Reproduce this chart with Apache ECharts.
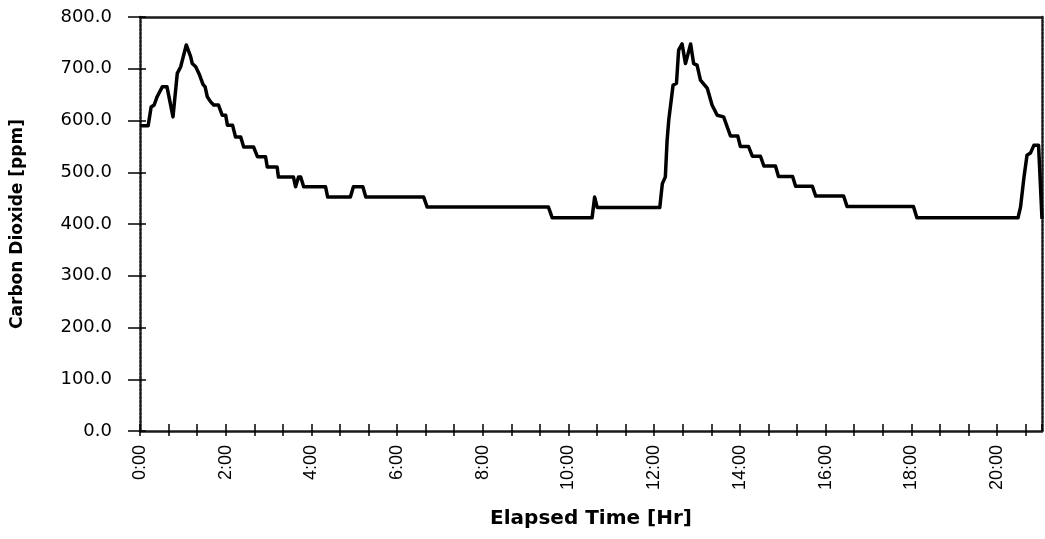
<!DOCTYPE html>
<html>
<head>
<meta charset="utf-8">
<script src="https://cdn.jsdelivr.net/npm/echarts@6/dist/echarts.min.js"></script>
<style>html,body{margin:0;padding:0;background:#fff}#c{width:1045px;height:539px}</style>
</head>
<body>
<div id="c"></div>
<script>
// Elapsed time in hours
var timeHr = [0.00,0.19,0.26,0.33,0.40,0.52,0.63,0.77,0.87,0.95,1.08,1.18,1.22,1.30,1.38,1.47,1.52,1.57,1.65,
  1.72,1.83,1.92,2.00,2.04,2.16,2.23,2.35,2.42,2.65,2.74,2.93,2.97,3.20,3.23,3.58,3.63,3.70,3.75,3.82,4.33,4.38,4.91,
  4.98,5.20,5.27,6.62,6.70,9.53,9.62,10.55,10.61,10.67,12.13,12.19,12.26,12.30,12.34,12.44,12.52,12.57,12.65,12.73,
  12.85,12.92,13.00,13.08,13.24,13.35,13.47,13.62,13.78,13.95,14.01,14.20,14.29,14.48,14.56,14.83,14.90,15.23,15.30,
  15.69,15.77,16.42,16.50,18.05,18.13,20.49,20.55,20.63,20.70,20.78,20.86,20.97,21.05];
// Carbon dioxide in ppm
var co2 = [590,590,626,630,646,665,665,607,691,704,746,724,710,704,690,670,665,646,636,
  630,630,610,610,591,591,568,568,549,549,530,530,510,510,491,491,472,491,491,472,472,452,452,
  472,472,452,452,433,433,412,412,452,432,432,478,491,560,601,668,672,736,748,710,
  748,710,707,678,662,630,610,607,570,570,550,550,531,531,512,512,492,492,473,
  473,454,454,434,434,412,412,433,491,533,537,552,552,410];
var yTicks = [0,100,200,300,400,500,600,700,800];
var xMaxHr = 21.05;

var pts = timeHr.map(function(t,i){ return [t*60, co2[i]]; });
var chart = echarts.init(document.getElementById('c'), null, {renderer:'canvas'});
var borderLine = {show:true, onZero:false, lineStyle:{color:'#1a1a1a', width:2.5, type:[3,1]}};
chart.setOption({
  animation:false,
  backgroundColor:'#fff',
  grid:{left:140, right:3, top:17, bottom:108, containLabel:false},
  xAxis:[
    {type:'value', min:0, max:xMaxHr*60, interval:40, position:'bottom',
     axisLine:borderLine,
     axisTick:{show:true, inside:false, length:5, lineStyle:{color:'#000', width:1.5}},
     splitLine:{show:false},
     axisLabel:{rotate:90, margin:14, color:'#000', fontFamily:'Liberation Sans', fontSize:18, showMaxLabel:false,
       formatter:function(v){ return (Math.round(v)%120===0) ? (Math.round(v)/60)+':00' : ''; }},
     name:'Elapsed Time [Hr]', nameLocation:'middle', nameGap:78,
     nameTextStyle:{color:'#000', fontFamily:'DejaVu Sans', fontWeight:'bold', fontSize:20}},
    {type:'value', min:0, max:xMaxHr*60, interval:40, position:'bottom',
     axisLine:{show:false, onZero:false}, axisLabel:{show:false}, splitLine:{show:false},
     axisTick:{show:true, inside:true, length:7, lineStyle:{color:'#000', width:1.5}}},
    {type:'value', min:0, max:xMaxHr*60, position:'top',
     axisLine:borderLine, axisTick:{show:false}, axisLabel:{show:false}, splitLine:{show:false}}
  ],
  yAxis:[
    {type:'value', min:0, max:800, interval:100, position:'left',
     axisLine:borderLine,
     axisTick:{show:true, inside:false, length:12, lineStyle:{color:'#000', width:1.5}},
     splitLine:{show:false},
     axisLabel:{margin:28, color:'#000', fontFamily:'DejaVu Sans', fontSize:18,
       formatter:function(v){ return v.toFixed(1); }},
     name:'Carbon Dioxide [ppm]', nameLocation:'middle', nameGap:114, nameRotate:90,
     nameTextStyle:{color:'#000', fontFamily:'DejaVu Sans', fontWeight:'bold', fontSize:17}},
    {type:'value', min:0, max:800, interval:100, position:'left',
     axisLine:{show:false, onZero:false}, axisLabel:{show:false}, splitLine:{show:false},
     axisTick:{show:true, inside:true, length:6, lineStyle:{color:'#000', width:1.5}}},
    {type:'value', min:0, max:800, position:'right',
     axisLine:borderLine, axisTick:{show:false}, axisLabel:{show:false}, splitLine:{show:false}}
  ],
  series:[{
    type:'line', xAxisIndex:0, yAxisIndex:0, data:pts, showSymbol:false, symbol:'none',
    lineStyle:{color:'#000', width:3.5, join:'round'}, clip:true
  }]
});
</script>
</body>
</html>
